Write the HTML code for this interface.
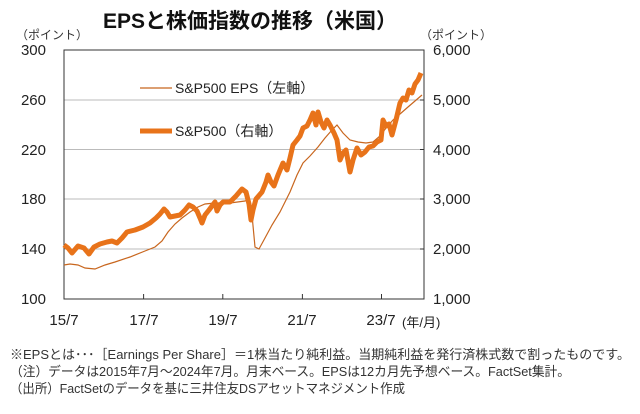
<!DOCTYPE html><html><head><meta charset="utf-8"><style>
body{margin:0;width:640px;height:409px;background:#fff;overflow:hidden;font-family:"Liberation Sans","Noto Sans CJK JP",sans-serif;color:#222}
svg text{font-family:"Liberation Sans","Noto Sans CJK JP",sans-serif}
</style></head><body>
<svg width="640" height="409" viewBox="0 0 640 409" xmlns="http://www.w3.org/2000/svg">
<text x="250" y="28" font-size="21" font-weight="bold" text-anchor="middle" fill="#111">EPSと株価指数の推移（米国）</text>
<text x="16" y="39" font-size="12" fill="#333">（ポイント）</text>
<text x="420" y="39" font-size="12" fill="#333">（ポイント）</text>
<g stroke="#bbb" stroke-width="1">
<line x1="64" y1="100" x2="424" y2="100"/><line x1="64" y1="149.5" x2="424" y2="149.5"/><line x1="64" y1="199" x2="424" y2="199"/><line x1="64" y1="249" x2="424" y2="249"/>
</g>
<rect x="64" y="50" width="360" height="249" fill="none" stroke="#333" stroke-width="1"/>
<g stroke="#333"><line x1="143.6" y1="299" x2="143.6" y2="294"/><line x1="222.8" y1="299" x2="222.8" y2="294"/><line x1="302.4" y1="299" x2="302.4" y2="294"/><line x1="381.5" y1="299" x2="381.5" y2="294"/>
<line x1="424" y1="100" x2="420" y2="100"/><line x1="424" y1="149.5" x2="420" y2="149.5"/><line x1="424" y1="199" x2="420" y2="199"/><line x1="424" y1="249" x2="420" y2="249"/></g>
<g font-size="15" fill="#222" text-anchor="end">
<text x="46" y="55">300</text><text x="46" y="105">260</text><text x="46" y="155">220</text><text x="46" y="204">180</text><text x="46" y="254">140</text><text x="46" y="304">100</text></g>
<g font-size="15" fill="#222">
<text x="433" y="55">6,000</text><text x="433" y="105">5,000</text><text x="433" y="155">4,000</text><text x="433" y="204">3,000</text><text x="433" y="254">2,000</text><text x="433" y="304">1,000</text></g>
<g font-size="15" fill="#222" text-anchor="middle">
<text x="64" y="325">15/7</text><text x="144" y="325">17/7</text><text x="223" y="325">19/7</text><text x="302" y="325">21/7</text><text x="381" y="325">23/7</text></g>
<text x="402" y="327" font-size="13" fill="#222">(年/月)</text>
<polyline fill="none" stroke="#c8661e" stroke-width="1.2" points="64,265 70,264 78,265 85,268 95,269 105,265 115,262 130,257 145,251 155,247 162,241 168,232 175,224 182,218 190,212 198,207 205,204 215,203 230,203 245,201 249,199 252,215 255,247 259,249 265,238 272,225 280,212 290,192 297,175 303,163 310,156 318,147 325,138 332,130 337,125 343,133 350,140 358,142 366,143 373,142 380,136 386,128 393,120 400,114 408,107 415,101 422,95"/>
<polyline fill="none" stroke="#e8731a" stroke-width="5" stroke-linejoin="round" points="64,245 68,248 72,253 78,246 84,248 89,254 94,247 100,244 107,242 112,241 117,243 122,238 127,232 135,230 143,227 150,223 156,218 160,214 164,209 167,212 170,217 175,216 180,215 185,210 189,205 193,207 197,211 200,218 202,223 205,215 209,210 212,206 215,202 217,211 220,205 223,202 230,202 236,196 242,189 246,192 249,204 251,220 253,210 256,199 262,192 266,182 268,175 271,182 274,186 278,175 283,163 287,170 290,158 293,145 297,140 300,136 303,128 307,126 310,120 313,113 316,125 318,112 321,122 324,128 327,120 330,125 334,133 337,140 340,160 343,153 346,150 350,172 353,160 357,148 361,155 365,152 369,147 373,146 377,142 381,140 383,120 386,126 389,124 392,135 396,120 400,103 403,98 406,100 409,90 412,93 415,84 418,80 421,73"/>
<line x1="140" y1="88" x2="172" y2="88" stroke="#c8661e" stroke-width="1.2"/>
<text x="175" y="93" font-size="14" fill="#222">S&amp;P500 EPS（左軸）</text>
<line x1="140" y1="131" x2="172" y2="131" stroke="#e8731a" stroke-width="5"/>
<text x="175" y="136" font-size="14" fill="#222">S&amp;P500（右軸）</text>
<g font-size="13" fill="#333">
<text x="10" y="359" textLength="620" lengthAdjust="spacingAndGlyphs">※EPSとは･･･［Earnings Per Share］＝1株当たり純利益。当期純利益を発行済株式数で割ったものです。</text>
<text x="10" y="376" textLength="560" lengthAdjust="spacingAndGlyphs">（注）データは2015年7月～2024年7月。月末ベース。EPSは12カ月先予想ベース。FactSet集計。</text>
<text x="10" y="393" textLength="395" lengthAdjust="spacingAndGlyphs">（出所）FactSetのデータを基に三井住友DSアセットマネジメント作成</text>
</g>
</svg>
</body></html>
